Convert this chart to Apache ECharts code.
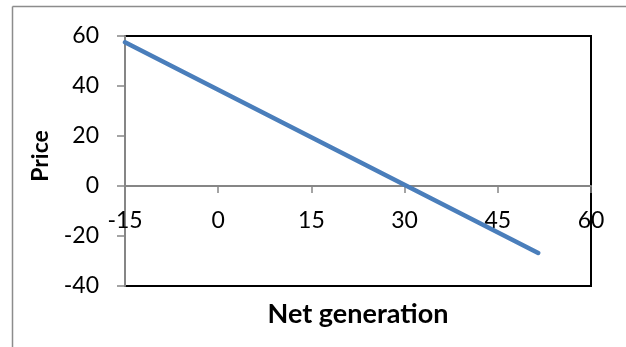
<!DOCTYPE html>
<html>
<head>
<meta charset="utf-8">
<script src="https://cdn.jsdelivr.net/npm/echarts@6/dist/echarts.min.js"></script>
<style>
html,body{margin:0;padding:0;background:#fff;}
#chart{width:626px;height:347px;}
</style>
</head>
<body>
<div id="chart"></div>
<script>
// Data
var xTicks = [-15, 0, 15, 30, 45, 60];
var yTicks = [-40, -20, 0, 20, 40, 60];
var netGeneration = [-15, 51.5];
var price = [57.5, -26.8];
var xName = 'Net generation';
var yName = 'Price';

var seriesData = netGeneration.map(function (x, i) { return [x, price[i]]; });

var chart = echarts.init(document.getElementById('chart'), null, {renderer: 'canvas'});
var font = 'Lato, "Open Sans", sans-serif';
chart.setOption({
  animation: false,
  backgroundColor: '#ffffff',
  graphic: [
    {type: 'line', shape: {x1: 12.5, y1: 6.5, x2: 626, y2: 6.5}, style: {stroke: '#8c8c8c', lineWidth: 1.5}, z: 100},
    {type: 'line', shape: {x1: 12.5, y1: 6.5, x2: 12.5, y2: 347}, style: {stroke: '#8c8c8c', lineWidth: 1.5}, z: 100}
  ],
  grid: {
    left: 125, right: 35, top: 36, bottom: 61,
    containLabel: false, outerBoundsMode: 'none',
    show: true, borderColor: '#000000', borderWidth: 2, backgroundColor: '#ffffff'
  },
  xAxis: {
    type: 'value',
    min: xTicks[0], max: xTicks[xTicks.length - 1], interval: 15,
    name: xName, nameLocation: 'middle', nameGap: 15,
    nameTextStyle: {fontFamily: font, fontWeight: 'bold', fontSize: 27, color: '#000'},
    axisLine: {show: true, onZero: true, lineStyle: {color: '#868686', width: 2}},
    axisTick: {show: true, inside: false, length: 7, lineStyle: {color: '#868686', width: 1.5}},
    axisLabel: {margin: -77, fontFamily: font, fontSize: 23, color: '#000', showMinLabel: true, showMaxLabel: true},
    splitLine: {show: false}
  },
  yAxis: {
    type: 'value',
    min: yTicks[0], max: yTicks[yTicks.length - 1], interval: 20,
    name: yName, nameLocation: 'middle', nameGap: 73, nameRotate: 90,
    nameTextStyle: {fontFamily: font, fontWeight: 'bold', fontSize: 23, color: '#000', padding: [0, 0, 0, 10]},
    axisLine: {show: true, onZero: false, lineStyle: {color: '#868686', width: 2}},
    axisTick: {show: true, inside: false, length: 8, lineStyle: {color: '#868686', width: 1.5}},
    axisLabel: {margin: 26, fontFamily: font, fontSize: 23, color: '#000'},
    splitLine: {show: false}
  },
  series: [{
    type: 'line',
    data: seriesData,
    showSymbol: false,
    symbol: 'none',
    clip: true,
    lineStyle: {color: '#4a7ebb', width: 4.5, cap: 'round'}
  }]
});
</script>
</body>
</html>
